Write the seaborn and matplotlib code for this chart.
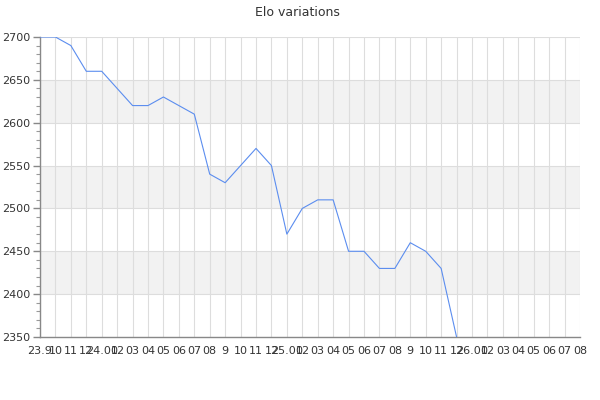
import matplotlib
matplotlib.use("Agg")
import matplotlib.pyplot as plt
import seaborn as sns
import pandas as pd
from matplotlib.ticker import MultipleLocator

tick_labels = ["23.9", "10", "11", "12",
               "24.01", "02", "03", "04", "05", "06", "07", "08", "9", "10", "11", "12",
               "25.01", "02", "03", "04", "05", "06", "07", "08", "9", "10", "11", "12",
               "26.01", "02", "03", "04", "05", "06", "07", "08"]
elo = [2700, 2700, 2690, 2660, 2660, 2640, 2620, 2620, 2630, 2620, 2610,
       2540, 2530, 2550, 2570, 2550, 2470, 2500, 2510, 2510, 2450, 2450,
       2430, 2430, 2460, 2450, 2430, 2350]
bands = [(2400, 2450), (2500, 2550), (2600, 2650)]

df = pd.DataFrame({"month": range(len(elo)), "elo": elo})

sns.set_style("white")
plt.rcParams["font.family"] = ["DejaVu Sans"]

fig = plt.figure(figsize=(6, 4), dpi=100)
ax = fig.add_axes([40 / 600, 63 / 400, 540 / 600, 300 / 400])

for lo, hi in bands:
    ax.axhspan(lo, hi, color="#f2f2f2", zorder=0, lw=0)

sns.lineplot(data=df, x="month", y="elo", ax=ax, color="#5b8def", lw=0.8, zorder=3)

ax.set_xlim(0, len(tick_labels) - 1)
ax.set_ylim(2350, 2700)
ax.set_xticks(range(len(tick_labels)))
ax.set_xticklabels(tick_labels)
ax.yaxis.set_major_locator(MultipleLocator(50))
ax.yaxis.set_minor_locator(MultipleLocator(10))
ax.grid(True, which="major", color="#dddddd", lw=0.8, zorder=1)
ax.set_axisbelow(True)

for s in ["top", "right"]:
    ax.spines[s].set_visible(False)
for s in ["left", "bottom"]:
    ax.spines[s].set_visible(True)
    ax.spines[s].set_color("#888888")
    ax.spines[s].set_linewidth(1)

ax.tick_params(axis="y", which="major", left=True, length=5, width=1, color="#888888",
               labelsize=8, labelcolor="#333333", pad=2)
ax.tick_params(axis="y", which="minor", left=True, length=3, width=0.8, color="#999999")
ax.tick_params(axis="x", which="major", bottom=False, labelsize=8, labelcolor="#333333", pad=3)

ax.set_xlabel("")
ax.set_ylabel("")
fig.text(0.495, 0.97, "Elo variations", ha="center", va="center", fontsize=9, color="#333333")

fig.savefig("out.png", dpi=100)
